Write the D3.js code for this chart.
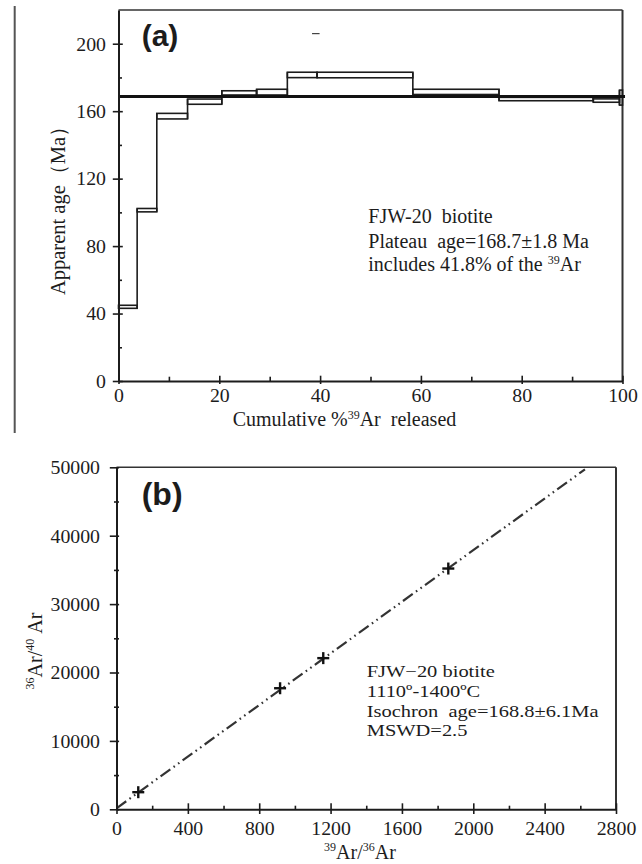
<!DOCTYPE html>
<html><head><meta charset="utf-8">
<script src="https://cdn.jsdelivr.net/npm/d3@7"></script>
<style>
body{margin:0;background:#fff;}
svg text{font-family:"Liberation Serif","Times New Roman",serif;fill:#1c1c1c;font-size:20px;}
</style></head><body>
<svg id="c" width="642" height="864"></svg>
<script>
// ---------- Panel (a): step-heating age spectrum ----------
const stepStart = [0, 3.7, 7.6, 13.7, 20.5, 27.4, 33.5, 39.4, 58.4, 75.5, 94.2, 99.4];
const stepEnd   = [3.7, 7.6, 13.7, 20.5, 27.4, 33.5, 39.4, 58.4, 75.5, 94.2, 99.4, 100];
const ageHigh   = [44.9, 102.3, 158.7, 167.2, 172.1, 173.0, 183.1, 183.1, 173.0, 168.2, 167.3, 172.5];
const ageLow    = [43.1, 100.3, 155.4, 164.1, 169.6, 169.6, 179.9, 179.8, 169.9, 166.2, 165.3, 163.6];
const plateauAge = 168.7;
const plateauMark = [38.4, 39.9, 206];
const ageTicks = [0, 40, 80, 120, 160, 200];
const ageMinorTicks = [20, 60, 100, 140, 180];
const cumTicks = [0, 20, 40, 60, 80, 100];
const cumMinorTicks = [10, 30, 50, 70, 90];
const textA = ["FJW-20\u00a0 biotite", "Plateau\u00a0 age=168.7\u00b11.8 Ma"];

// ---------- Panel (b): isochron ----------
const ratioX = [122, 917, 1159, 1860];
const ratioY = [2500, 17700, 22100, 35200];
const isoX = [0, 2626];
const isoY = [150, 49700];
const ratioYTicks = [0, 10000, 20000, 30000, 40000, 50000];
const ratioYMinor = [5000, 15000, 25000, 35000, 45000];
const ratioXTicks = [0, 400, 800, 1200, 1600, 2000, 2400, 2800];
const ratioXMinor = [200, 600, 1000, 1400, 1800, 2200, 2600];
const textB = ["FJW\u221220 biotite", "1110\u00ba-1400\u00baC", "Isochron\u00a0 age=168.8\u00b16.1Ma", "MSWD=2.5"];

const svg = d3.select("#c");
const ink = "#1c1c1c";
const serif = "'Liberation Serif','Times New Roman',serif";
const SX = 1.1; // horizontal stretch of tick labels

svg.append("line").attr("x1", 14.7).attr("x2", 14.7).attr("y1", 6).attr("y2", 433)
  .attr("stroke", "#555").attr("stroke-width", 2);

function styleLeftLabels(ax, gap) {
  ax.selectAll(".tick text").attr("x", -gap / SX).attr("dy", "0.35em")
    .attr("transform", `scale(${SX},1)`)
    .style("font-size", "18px").style("font-family", serif).attr("fill", ink);
}
function styleBottomLabels(ax, base) {
  ax.selectAll(".tick text").attr("y", base).attr("dy", 0)
    .attr("transform", `scale(${SX},1)`)
    .style("font-size", "18px").style("font-family", serif).attr("fill", ink);
}

// ================= Panel (a) =================
const xA = d3.scaleLinear().domain([0, 100]).range([118.5, 622.5]);
const yA = d3.scaleLinear().domain([0, 220]).range([381, 10]);
const gA = svg.append("g");

gA.append("line").attr("x1", xA(0)).attr("x2", xA(100)).attr("y1", yA(220)).attr("y2", yA(220))
  .attr("stroke", "#333").attr("stroke-width", 1.5);
gA.append("line").attr("x1", xA(100)).attr("x2", xA(100)).attr("y1", yA(220)).attr("y2", yA(0))
  .attr("stroke", "#333").attr("stroke-width", 2);

const idx = d3.range(stepStart.length);
gA.selectAll("rect.step").data(idx).join("rect").attr("class", "step")
  .attr("x", i => xA(stepStart[i])).attr("width", i => xA(stepEnd[i]) - xA(stepStart[i]))
  .attr("y", i => yA(ageHigh[i])).attr("height", i => yA(ageLow[i]) - yA(ageHigh[i]))
  .attr("fill", "none").attr("stroke", ink).attr("stroke-width", 1.6);
gA.selectAll("line.conn").data(idx.slice(0, -1)).join("line").attr("class", "conn")
  .attr("x1", i => xA(stepEnd[i])).attr("x2", i => xA(stepEnd[i]))
  .attr("y1", i => yA(Math.max(ageHigh[i], ageHigh[i + 1])))
  .attr("y2", i => yA(Math.min(ageLow[i], ageLow[i + 1])))
  .attr("stroke", ink).attr("stroke-width", 1.6);

gA.append("line").attr("x1", xA(0)).attr("x2", xA(100.5))
  .attr("y1", yA(plateauAge)).attr("y2", yA(plateauAge))
  .attr("stroke", "#111").attr("stroke-width", 3);
gA.append("line").attr("x1", xA(plateauMark[0])).attr("x2", xA(plateauMark[1]))
  .attr("y1", yA(plateauMark[2])).attr("y2", yA(plateauMark[2]))
  .attr("stroke", "#444").attr("stroke-width", 1.2);

const axYA = gA.append("g").attr("transform", `translate(${xA(0)},0)`)
  .call(d3.axisLeft(yA).tickValues(ageTicks).tickFormat(d3.format("d")).tickSize(5.7).tickSizeOuter(0));
axYA.selectAll(".tick line").attr("x1", 4.3);
styleLeftLabels(axYA, 12.5);
const axYAm = gA.append("g").attr("transform", `translate(${xA(0)},0)`)
  .call(d3.axisLeft(yA).tickValues(ageMinorTicks).tickSize(-3.5).tickFormat(""));
axYAm.select(".domain").remove();

const axXA = gA.append("g").attr("transform", `translate(0,${yA(0)})`)
  .call(d3.axisBottom(xA).tickValues(cumTicks).tickFormat(d3.format("d")).tickSize(-5.3).tickSizeOuter(0));
axXA.selectAll(".tick line").attr("y1", 3);
styleBottomLabels(axXA, 21.5);
const axXAm = gA.append("g").attr("transform", `translate(0,${yA(0)})`)
  .call(d3.axisBottom(xA).tickValues(cumMinorTicks).tickSize(-4.3).tickFormat(""));
axXAm.select(".domain").remove();

const tXA = gA.append("text").attr("x", 232.7).attr("y", 425.5).style("font-size", "20px");
tXA.append("tspan").text("Cumulative %");
tXA.append("tspan").attr("font-size", 12).attr("dy", -7).text("39");
tXA.append("tspan").attr("dy", 7).text("Ar\u00a0 released");

gA.append("text").attr("transform", "translate(65,205.5) rotate(-90)")
  .attr("text-anchor", "middle").style("font-size", "20.5px").text("Apparent age\uff08Ma\uff09");

gA.append("text").attr("x", 141.7).attr("y", 46.4)
  .style("font-family", "'Liberation Sans',Arial,sans-serif").style("font-weight", "bold")
  .style("font-size", "30px").text("(a)");

const annA = gA.append("g");
annA.append("text").attr("x", 368.3).attr("y", 223.3).text(textA[0]);
annA.append("text").attr("x", 368.3).attr("y", 248.3).text(textA[1]);
const l3 = annA.append("text").attr("x", 368.3).attr("y", 270.7);
l3.append("tspan").text("includes 41.8% of the ");
l3.append("tspan").attr("font-size", 12).attr("dy", -7).text("39");
l3.append("tspan").attr("dy", 7).text("Ar");

[axYA, axXA].forEach(a => a.select(".domain").attr("stroke", ink).attr("stroke-width", 2));
gA.selectAll(".tick line").attr("stroke", ink).attr("stroke-width", 1.6);

// ================= Panel (b) =================
const xB = d3.scaleLinear().domain([0, 2800]).range([116.5, 616]);
const yB = d3.scaleLinear().domain([0, 50000]).range([809.3, 467.3]);
const gB = svg.append("g");

gB.append("line").attr("x1", xB(0)).attr("x2", xB(2800)).attr("y1", yB(50000)).attr("y2", yB(50000))
  .attr("stroke", "#333").attr("stroke-width", 1.5);
gB.append("line").attr("x1", xB(2800)).attr("x2", xB(2800)).attr("y1", yB(50000)).attr("y2", yB(0))
  .attr("stroke", "#333").attr("stroke-width", 2);

const isoPts = isoX.map((v, i) => [v, isoY[i]]);
gB.append("path").datum(isoPts)
  .attr("d", d3.line().x(d => xB(d[0])).y(d => yB(d[1])))
  .attr("fill", "none").attr("stroke", "#333").attr("stroke-width", 2.2)
  .attr("stroke-dasharray", "12,4,1.6,4,1.6,4");

const pIdx = d3.range(ratioX.length);
const pts = gB.selectAll("g.pt").data(pIdx).join("g").attr("class", "pt")
  .attr("transform", i => `translate(${xB(ratioX[i])},${yB(ratioY[i])})`);
pts.append("line").attr("x1", -6).attr("x2", 6).attr("y1", 0).attr("y2", 0)
  .attr("stroke", "#111").attr("stroke-width", 2.4);
pts.append("line").attr("x1", 0).attr("x2", 0).attr("y1", -6).attr("y2", 6)
  .attr("stroke", "#111").attr("stroke-width", 2.4);

const axYB = gB.append("g").attr("transform", `translate(${xB(0)},0)`)
  .call(d3.axisLeft(yB).tickValues(ratioYTicks).tickFormat(d3.format("d")).tickSize(6.7).tickSizeOuter(0));
axYB.selectAll(".tick line").attr("x1", 2.6);
styleLeftLabels(axYB, 16.5);
const axYBm = gB.append("g").attr("transform", `translate(${xB(0)},0)`)
  .call(d3.axisLeft(yB).tickValues(ratioYMinor).tickSize(2.5).tickFormat(""));
axYBm.selectAll(".tick line").attr("x1", 2.5);
axYBm.select(".domain").remove();

const axXB = gB.append("g").attr("transform", `translate(0,${yB(0)})`)
  .call(d3.axisBottom(xB).tickValues(ratioXTicks).tickFormat(d3.format("d")).tickSize(-6).tickSizeOuter(0));
axXB.selectAll(".tick line").attr("y1", 4.7);
styleBottomLabels(axXB, 26);
const axXBm = gB.append("g").attr("transform", `translate(0,${yB(0)})`)
  .call(d3.axisBottom(xB).tickValues(ratioXMinor).tickSize(-3.6).tickFormat(""));
axXBm.select(".domain").remove();

[axYB, axXB].forEach(a => a.select(".domain").attr("stroke", ink).attr("stroke-width", 2));
gB.selectAll(".tick line").attr("stroke", ink).attr("stroke-width", 1.6);

const tXB = gB.append("text").attr("x", 360).attr("y", 859).attr("text-anchor", "middle");
tXB.append("tspan").attr("font-size", 12).attr("dy", -8).text("39");
tXB.append("tspan").attr("dy", 8).text("Ar/");
tXB.append("tspan").attr("font-size", 12).attr("dy", -8).text("36");
tXB.append("tspan").attr("dy", 8).text("Ar");

const tYB = gB.append("text").attr("transform", "translate(42,651) rotate(-90)")
  .attr("text-anchor", "middle");
tYB.append("tspan").attr("font-size", 12).attr("dy", -8).text("36");
tYB.append("tspan").attr("dy", 8).text("Ar/");
tYB.append("tspan").attr("font-size", 12).attr("dy", -8).text("40");
tYB.append("tspan").attr("dy", 8).text("\u00a0Ar");

gB.append("text").attr("x", 141.7).attr("y", 505)
  .style("font-family", "'Liberation Sans',Arial,sans-serif").style("font-weight", "bold")
  .style("font-size", "32px").text("(b)");

const annBy = [677.3, 697.3, 716.7, 736];
const SB = 1.17;
gB.append("g").selectAll("text").data(d3.range(textB.length)).join("text")
  .attr("transform", i => `translate(366.7,${annBy[i]}) scale(${SB},1)`)
  .style("font-size", "17.5px").text(i => textB[i]);
</script>
</body></html>
